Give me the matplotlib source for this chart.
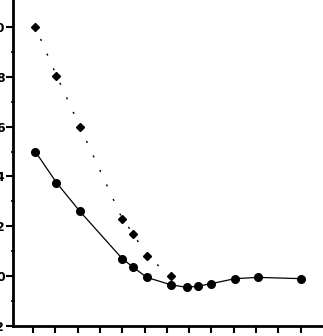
import numpy as np
import matplotlib.pyplot as plt

# lower series (filled circles, solid line)
x_low = [0.1, 1.05, 2.1, 4.0, 4.5, 5.1, 6.2, 6.9, 7.4, 8.0, 9.05, 10.1, 12.0]
y_low = [5.0, 3.75, 2.6, 0.7, 0.35, -0.05, -0.35, -0.45, -0.4, -0.3, -0.1, -0.05, -0.1]

# upper series (diamonds, dotted line)
x_up = [0.1, 1.05, 2.1, 4.0, 4.5, 5.1, 6.2]
y_up = [10.0, 8.05, 6.0, 2.3, 1.7, 0.8, 0.0]

y_ticks = [-2, 0, 2, 4, 6, 8, 10]

fig = plt.figure(figsize=(3.23, 3.36), dpi=100)
ax = fig.add_axes([13 / 323, 10 / 336, 1 - 13 / 323, 1 - 10 / 336])

ax.plot(x_low, y_low, color='black', lw=0.9)
ax.plot(x_low, y_low, 'o', color='black', ms=5.5)
ax.plot(x_up, y_up, color='black', lw=1.0, linestyle=(2, (1.5, 10)))
ax.plot(x_up, y_up, 'D', color='black', ms=4.2)

ax.set_xlim(-0.9, 13.0)
ax.set_ylim(-2, 11.08)

ax.spines['top'].set_visible(False)
ax.spines['right'].set_visible(False)
ax.spines['left'].set_linewidth(2)
ax.spines['bottom'].set_linewidth(2)

ax.set_yticks(y_ticks)
ax.set_yticklabels([str(v) for v in y_ticks], fontsize=9, fontweight='bold')
ax.set_yticks(np.arange(-1, 11, 2), minor=True)
ax.tick_params(axis='y', which='major', length=5, width=1.5, pad=1)
ax.tick_params(axis='y', which='minor', length=3, width=1.2, direction='inout')

ax.set_xticks(np.arange(0, 13, 1))
ax.set_xticklabels([])
ax.tick_params(axis='x', which='major', length=5, width=1.5)

fig.savefig('out.png', dpi=100)
